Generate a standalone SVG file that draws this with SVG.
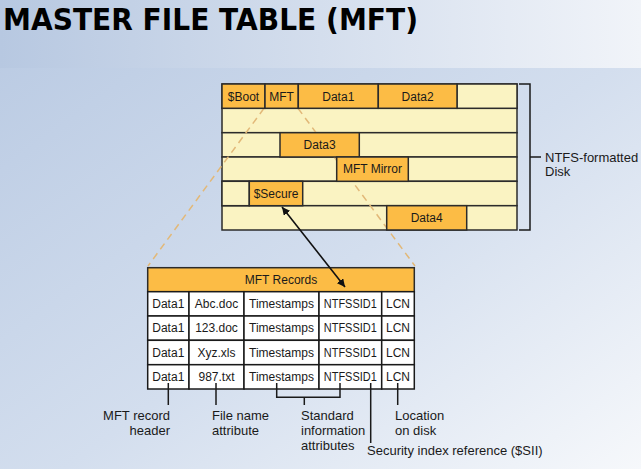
<svg xmlns="http://www.w3.org/2000/svg" width="641" height="469" viewBox="0 0 641 469">
<defs>
<linearGradient id="bgTop" x1="0" y1="0" x2="1" y2="0">
<stop offset="0" stop-color="#b7c8e1"/>
<stop offset="1" stop-color="#f1f4f9"/>
</linearGradient>
<linearGradient id="bgMain" x1="0" y1="0" x2="1" y2="1">
<stop offset="0" stop-color="#b8c9e2"/>
<stop offset="0.55" stop-color="#d3deee"/>
<stop offset="1" stop-color="#f6f8fb"/>
</linearGradient>
<marker id="ah" viewBox="0 0 10 10" refX="10" refY="5" markerWidth="8" markerHeight="8" markerUnits="userSpaceOnUse" orient="auto-start-reverse">
<path d="M0,0 L10,5 L0,10 z" fill="#111"/>
</marker>
<style>
.light{fill:#faf3c2;stroke:#2b2b2b;stroke-width:1.5}
.orange{fill:#fcbc45;stroke:#2b2b2b;stroke-width:1.5}
.cell{fill:#ffffff;stroke:#1a1a1a;stroke-width:1.5}
.t{font-family:"Liberation Sans",Arial,sans-serif;font-size:12px;fill:#1a1a1a;text-anchor:middle}
.lbl{font-family:"Liberation Sans",Arial,sans-serif;font-size:13px;fill:#1a1a1a}
.ln{stroke:#1a1a1a;stroke-width:1.5;fill:none}
.dash{stroke:#e2b878;stroke-width:1.5;stroke-dasharray:7,5;fill:none}
</style>
</defs>
<rect x="0" y="0" width="641" height="469" fill="url(#bgMain)"/>
<rect x="0" y="0" width="641" height="68" fill="url(#bgTop)"/>
<text x="3" y="30" font-family="DejaVu Sans,Verdana,sans-serif" font-weight="bold" font-size="30" textLength="415" lengthAdjust="spacingAndGlyphs" fill="#000">MASTER FILE TABLE (MFT)</text>

<g id="disk">
<rect class="light" x="222" y="84" width="295" height="24.3"/>
<rect class="light" x="222" y="108.3" width="295" height="24.4"/>
<rect class="light" x="222" y="132.7" width="295" height="24.3"/>
<rect class="light" x="222" y="157" width="295" height="24.3"/>
<rect class="light" x="222" y="181.3" width="295" height="24.4"/>
<rect class="light" x="222" y="205.7" width="295" height="24.3"/>
<rect class="light" x="222" y="181.3" width="27.3" height="24.4"/>
<rect class="light" x="457" y="84" width="60" height="24.3"/>
</g>

<g id="connectors">
<line class="dash" x1="264" y1="108.3" x2="148" y2="266"/>
<line class="dash" x1="298" y1="108.3" x2="415" y2="266"/>
</g>

<g id="disk-cells">
<g id="boot"><rect class="orange" x="222" y="84" width="43" height="24.3"/><text class="t" x="243.5" y="100.5">$Boot</text></g>
<g id="mft"><rect class="orange" x="265" y="84" width="33.3" height="24.3"/><text class="t" x="281.6" y="100.5">MFT</text></g>
<g id="data1"><rect class="orange" x="298.3" y="84" width="80" height="24.3"/><text class="t" x="338.3" y="100.5">Data1</text></g>
<g id="data2"><rect class="orange" x="378.3" y="84" width="78.7" height="24.3"/><text class="t" x="417.6" y="100.5">Data2</text></g>
<g id="data3"><rect class="orange" x="280" y="132.7" width="79.3" height="24.3"/><text class="t" x="319.6" y="149">Data3</text></g>
<g id="mftmirror"><rect class="orange" x="336.7" y="157" width="71.6" height="24.3"/><text class="t" x="372.5" y="173.3">MFT Mirror</text></g>
<g id="secure"><rect class="orange" x="249.3" y="181.3" width="53.4" height="24.4"/><text class="t" x="276" y="197.7">$Secure</text></g>
<g id="data4"><rect class="orange" x="386.7" y="205.7" width="80" height="24.3"/><text class="t" x="426.7" y="222">Data4</text></g>
</g>

<g id="disk-bracket">
<polyline class="ln" points="519,84 530,84 530,230 519,230"/>
<line class="ln" x1="530" y1="157" x2="541" y2="157"/>
<text class="lbl" x="545" y="161.5">NTFS-formatted</text>
<text class="lbl" x="545" y="176">Disk</text>
</g>

<g id="mft-records">
<rect class="orange" x="147.7" y="267.7" width="266.6" height="24"/>
<text class="t" x="281" y="284">MFT Records</text>
<g id="rows">
<rect class="cell" x="147.7" y="291.7" width="41.3" height="24.3"/><rect class="cell" x="189" y="291.7" width="55" height="24.3"/><rect class="cell" x="244" y="291.7" width="75" height="24.3"/><rect class="cell" x="319" y="291.7" width="62.7" height="24.3"/><rect class="cell" x="381.7" y="291.7" width="32.6" height="24.3"/>
<rect class="cell" x="147.7" y="316" width="41.3" height="24.3"/><rect class="cell" x="189" y="316" width="55" height="24.3"/><rect class="cell" x="244" y="316" width="75" height="24.3"/><rect class="cell" x="319" y="316" width="62.7" height="24.3"/><rect class="cell" x="381.7" y="316" width="32.6" height="24.3"/>
<rect class="cell" x="147.7" y="340.3" width="41.3" height="24.4"/><rect class="cell" x="189" y="340.3" width="55" height="24.4"/><rect class="cell" x="244" y="340.3" width="75" height="24.4"/><rect class="cell" x="319" y="340.3" width="62.7" height="24.4"/><rect class="cell" x="381.7" y="340.3" width="32.6" height="24.4"/>
<rect class="cell" x="147.7" y="364.7" width="41.3" height="24.3"/><rect class="cell" x="189" y="364.7" width="55" height="24.3"/><rect class="cell" x="244" y="364.7" width="75" height="24.3"/><rect class="cell" x="319" y="364.7" width="62.7" height="24.3"/><rect class="cell" x="381.7" y="364.7" width="32.6" height="24.3"/>
</g>
<text class="t" x="168.3" y="308">Data1</text><text class="t" x="216.5" y="308">Abc.doc</text><text class="t" x="281.5" y="308">Timestamps</text><text class="t" x="350.3" y="308" textLength="53" lengthAdjust="spacingAndGlyphs">NTFSSID1</text><text class="t" x="398" y="308">LCN</text>
<text class="t" x="168.3" y="332.3">Data1</text><text class="t" x="216.5" y="332.3">123.doc</text><text class="t" x="281.5" y="332.3">Timestamps</text><text class="t" x="350.3" y="332.3" textLength="53" lengthAdjust="spacingAndGlyphs">NTFSSID1</text><text class="t" x="398" y="332.3">LCN</text>
<text class="t" x="168.3" y="356.6">Data1</text><text class="t" x="216.5" y="356.6">Xyz.xls</text><text class="t" x="281.5" y="356.6">Timestamps</text><text class="t" x="350.3" y="356.6" textLength="53" lengthAdjust="spacingAndGlyphs">NTFSSID1</text><text class="t" x="398" y="356.6">LCN</text>
<text class="t" x="168.3" y="381">Data1</text><text class="t" x="216.5" y="381">987.txt</text><text class="t" x="281.5" y="381">Timestamps</text><text class="t" x="350.3" y="381" textLength="53" lengthAdjust="spacingAndGlyphs">NTFSSID1</text><text class="t" x="398" y="381">LCN</text>
</g>

<g id="arrow">
<line x1="282" y1="207" x2="345" y2="287" stroke="#111" stroke-width="1.6" marker-start="url(#ah)" marker-end="url(#ah)"/>
</g>

<g id="callouts">
<line class="ln" x1="168.3" y1="383" x2="168.3" y2="405"/>
<line class="ln" x1="216" y1="383" x2="216" y2="405"/>
<path class="ln" d="M276.7,383 V397.3 H340 V383"/>
<line class="ln" x1="304.3" y1="397.3" x2="304.3" y2="405"/>
<line class="ln" x1="370.7" y1="383" x2="370.7" y2="443"/>
<line class="ln" x1="397.7" y1="383" x2="397.7" y2="405"/>
<text class="lbl" x="170" y="420" text-anchor="end">MFT record</text>
<text class="lbl" x="170" y="434.5" text-anchor="end">header</text>
<text class="lbl" x="212" y="420">File name</text>
<text class="lbl" x="212" y="434.5">attribute</text>
<text class="lbl" x="301" y="420">Standard</text>
<text class="lbl" x="301" y="434.5">information</text>
<text class="lbl" x="301" y="449.5">attributes</text>
<text class="lbl" x="395" y="420">Location</text>
<text class="lbl" x="395" y="434.5">on disk</text>
<text class="lbl" x="367" y="454.5">Security index reference ($SII)</text>
</g>
</svg>
